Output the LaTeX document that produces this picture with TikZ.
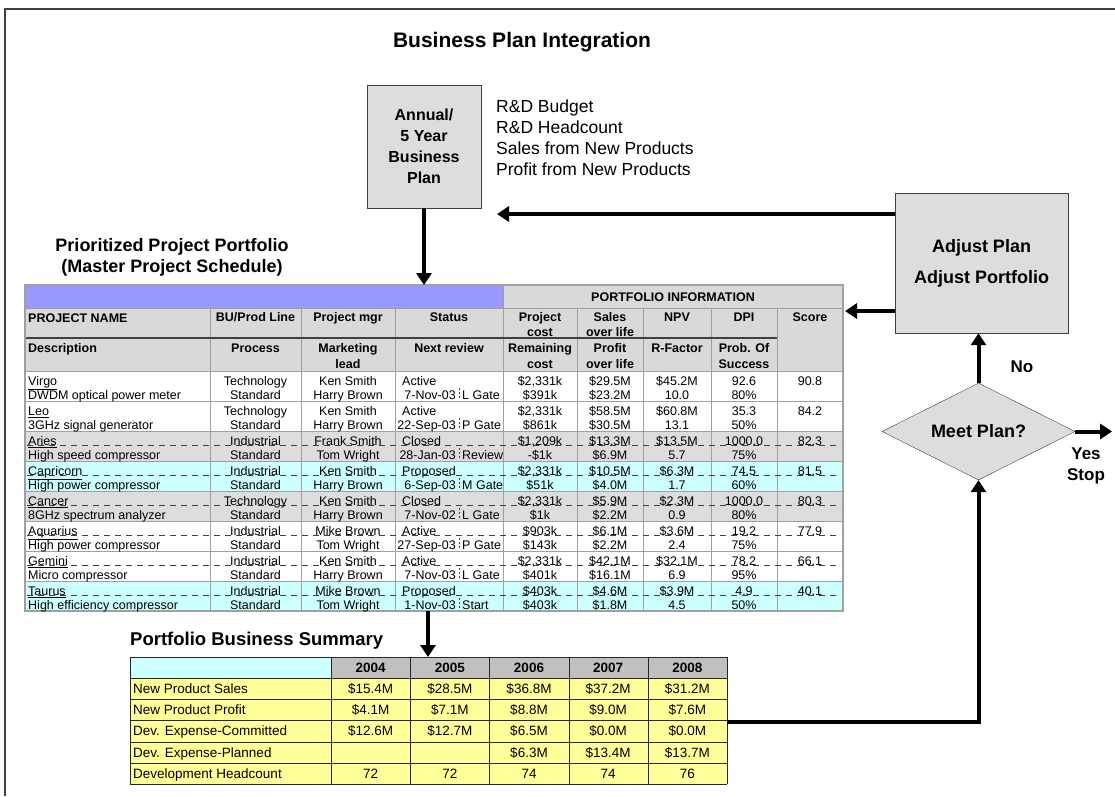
\documentclass[tikz,border=0pt]{standalone}
\usepackage{fontspec}
\setmainfont{Liberation Sans}
\usepackage{tikz}
\usetikzlibrary{shapes.geometric,arrows.meta,positioning,calc}
\definecolor{boxgray}{HTML}{DDDDDD}
\definecolor{hdrgray}{HTML}{D9D9D9}
\definecolor{barblue}{HTML}{9999FF}
\definecolor{rowcyan}{HTML}{CCFFFF}
\definecolor{sumyellow}{HTML}{FFFF99}
\definecolor{yeargray}{HTML}{C0C0C0}
\definecolor{gridgray}{HTML}{A0A0A0}
\definecolor{edge}{HTML}{404040}

\begin{document}
\begin{tikzpicture}[x=1pt,y=-1pt,
    flow/.style={line width=4pt,-{Triangle[length=12pt,width=15pt]}},
    bigbox/.style={draw=edge,fill=boxgray,align=center},
    cell/.style={inner sep=0pt,anchor=base,font=\fontsize{12.5}{14}\selectfont},
    hcell/.style={cell,font=\bfseries\fontsize{12.5}{14}\selectfont},
    scell/.style={inner sep=0pt,anchor=base,font=\fontsize{13.5}{16}\selectfont}]
    \useasboundingbox (0,0) rectangle (1115,796);
    \draw[edge,line width=1.5pt] (5,796) -- (5,9) -- (1115,9);

    \node[font=\bfseries\fontsize{21}{25}\selectfont] (title) at (522,42) {Business Plan Integration};

    \node[bigbox,minimum width=114pt,minimum height=123pt,font=\bfseries\fontsize{16}{21}\selectfont]
        (plan) at (424,146.5) {Annual/\\5 Year\\Business\\Plan};
    \node[anchor=north west,align=left,inner sep=0pt,font=\fontsize{17.5}{21}\selectfont]
        (targets) at (496,100) {R\&D Budget\\R\&D Headcount\\Sales from New Products\\Profit from New Products};

    \node[bigbox,minimum width=173pt,minimum height=140pt,font=\bfseries\fontsize{18}{31}\selectfont]
        (adjust) at (981.5,263) {Adjust Plan\\Adjust Portfolio};
    \node[diamond,aspect=2,draw=edge,fill=boxgray,inner sep=0pt,minimum width=193pt,minimum height=97pt,
        font=\bfseries\fontsize{18}{21}\selectfont] (meet) at (978.5,431.5) {Meet Plan?};
    \node[font=\bfseries\fontsize{17}{20}\selectfont] (no) at (1022,367) {No};
    \node[align=center,font=\bfseries\fontsize{17}{21}\selectfont] (yes) at (1086,466) {Yes\\Stop};

    \node[align=center,font=\bfseries\fontsize{18}{21}\selectfont] (pptitle) at (172,257)
        {Prioritized Project Portfolio\\(Master Project Schedule)};
    \node[anchor=west,inner sep=0pt,font=\bfseries\fontsize{18.5}{21}\selectfont] (sumtitle) at (130,641)
        {Portfolio Business Summary};

    % portfolio table
    \fill[barblue] (25,285) rectangle (503,308);
    \fill[hdrgray] (503,285) rectangle (843,308);
    \fill[hdrgray] (25,308) rectangle (843,371);
    \foreach \r/\col in {0/white,1/white,2/boxgray,3/rowcyan,4/boxgray,5/white,6/white,7/rowcyan}
        \fill[\col] (25,371+30*\r) rectangle (843,401+30*\r);
    \foreach \x in {210,301,395,577,643,711,777}
        \draw[gridgray] (\x,308) -- (\x,611);
    \draw[gridgray] (503,285) -- (503,611);
    \foreach \y in {308,371,401,431,...,581}
        \draw[gridgray] (25,\y) -- (843,\y);
    \draw[edge,line width=1.3pt] (25,338) -- (777,338);
    \draw[gridgray,line width=1.5pt] (25,285) rectangle (843,611);
    \foreach \r in {2,...,7}
        \draw[edge,dash pattern=on 6pt off 5pt] (27,385.5+30*\r) -- (841,385.5+30*\r);
    \foreach \r in {0,...,7}
        \draw[edge,dash pattern=on 2pt off 2pt] (459,388+30*\r) -- (459,399+30*\r);

    \node[hcell] (hport) at (673,301) {PORTFOLIO INFORMATION};
    \node[hcell,anchor=base west] (hname) at (28,322) {PROJECT NAME};
    \node[hcell,anchor=base west] (hdesc) at (28,352) {Description};
    \foreach \x/\ta/\tb [count=\i] in {255.5/{BU/Prod Line}/,348/Project mgr/,449/Status/,
            540/Project/cost,610/Sales/over life,677/NPV/,744/DPI/,810/Score/}
        {\node[hcell] (ha\i) at (\x,321) {\ta};
         \node[hcell] (hb\i) at (\x,336) {\tb};}
    \foreach \x/\ta/\tb [count=\i] in {255.5/Process/,348/Marketing/lead,449/Next review/,
            540/Remaining/cost,610/Profit/over life,677/R-Factor/,744/Prob. Of/Success}
        {\node[hcell] (hc\i) at (\x,352) {\ta};
         \node[hcell] (hd\i) at (\x,368) {\tb};}

    \foreach \ta/\tb [count=\i from 0] in {{\underline{Virgo}}/DWDM optical power meter,
            {\underline{Leo}}/3GHz signal generator,{\underline{Aries}}/High speed compressor,
            {\underline{Capricorn}}/High power compressor,{\underline{Cancer}}/8GHz spectrum analyzer,
            {\underline{Aquarius}}/High power compressor,{\underline{Gemini}}/Micro compressor,
            {\underline{Taurus}}/High efficiency compressor}
        {\node[cell,anchor=base west] (pn\i) at (28,385.5+30*\i) {\ta};
         \node[cell,anchor=base west] (pd\i) at (28,399.5+30*\i) {\tb};}
    \foreach \ta/\tb/\tc [count=\i from 0] in {Technology/Ken Smith/Harry Brown,
            Technology/Ken Smith/Harry Brown,Industrial/Frank Smith/Tom Wright,
            Industrial/Ken Smith/Harry Brown,Technology/Ken Smith/Harry Brown,
            Industrial/Mike Brown/Tom Wright,Industrial/Ken Smith/Harry Brown,
            Industrial/Mike Brown/Tom Wright}
        {\node[cell] (bu\i) at (255.5,385.5+30*\i) {\ta};
         \node[cell] (pr\i) at (255.5,399.5+30*\i) {Standard};
         \node[cell] (mg\i) at (348,385.5+30*\i) {\tb};
         \node[cell] (ml\i) at (348,399.5+30*\i) {\tc};}
    \foreach \ta/\tb/\tc [count=\i from 0] in {Active/7-Nov-03/L Gate,Active/22-Sep-03/P Gate,
            Closed/28-Jan-03/Review,Proposed/6-Sep-03/M Gate,Closed/7-Nov-02/L Gate,
            Active/27-Sep-03/P Gate,Active/7-Nov-03/L Gate,Proposed/1-Nov-03/Start}
        {\node[cell,anchor=base west] (st\i) at (402,385.5+30*\i) {\ta};
         \node[cell,anchor=base east] (dt\i) at (456,399.5+30*\i) {\tb};
         \node[cell,anchor=base west] (gt\i) at (462,399.5+30*\i) {\tc};}
    \foreach \ta/\tb/\tc/\td/\te/\tf/\tg/\th/\tk [count=\i from 0] in {
            {\$2,331k}/\$391k/\$29.5M/\$23.2M/\$45.2M/10.0/92.6/80\%/90.8,
            {\$2,331k}/\$861k/\$58.5M/\$30.5M/\$60.8M/13.1/35.3/50\%/84.2,
            {\$1,209k}/-\$1k/\$13.3M/\$6.9M/\$13.5M/5.7/1000.0/75\%/82.3,
            {\$2,331k}/\$51k/\$10.5M/\$4.0M/\$6.3M/1.7/74.5/60\%/81.5,
            {\$2,331k}/\$1k/\$5.9M/\$2.2M/\$2.3M/0.9/1000.0/80\%/80.3,
            \$903k/\$143k/\$6.1M/\$2.2M/\$3.6M/2.4/19.2/75\%/77.9,
            {\$2,331k}/\$401k/\$42.1M/\$16.1M/\$32.1M/6.9/78.2/95\%/66.1,
            \$403k/\$403k/\$4.6M/\$1.8M/\$3.9M/4.5/4.9/50\%/40.1}
        {\node[cell] (pc\i) at (540,385.5+30*\i) {\ta};
         \node[cell] (rc\i) at (540,399.5+30*\i) {\tb};
         \node[cell] (sl\i) at (610,385.5+30*\i) {\tc};
         \node[cell] (pf\i) at (610,399.5+30*\i) {\td};
         \node[cell] (nv\i) at (677,385.5+30*\i) {\te};
         \node[cell] (rf\i) at (677,399.5+30*\i) {\tf};
         \node[cell] (dp\i) at (744,385.5+30*\i) {\tg};
         \node[cell] (ps\i) at (744,399.5+30*\i) {\th};
         \node[cell] (sc\i) at (810,385.5+30*\i) {\tk};}

    % summary table
    \fill[rowcyan] (130,657) rectangle (331,678);
    \fill[yeargray] (331,657) rectangle (727,678);
    \fill[sumyellow] (130,678) rectangle (727,784);
    \foreach \x in {130,331,410,489,569,648,727}
        \draw[black!85] (\x,657) -- (\x,784);
    \foreach \y in {657,678,699,720,742,763,784}
        \draw[black!85] (130,\y) -- (727,\y);
    \foreach \t [count=\i] in {2004,2005,2006,2007,2008}
        \node[scell,font=\bfseries\fontsize{13.5}{16}\selectfont] (yr\i) at ({331+79.2*(\i-0.5)},672.5) {\t};
    \foreach \tl/\ta/\tb/\tc/\td/\te [count=\j from 0] in {
            New Product Sales/\$15.4M/\$28.5M/\$36.8M/\$37.2M/\$31.2M,
            New Product Profit/\$4.1M/\$7.1M/\$8.8M/\$9.0M/\$7.6M,
            Dev. Expense-Committed/\$12.6M/\$12.7M/\$6.5M/\$0.0M/\$0.0M,
            Dev. Expense-Planned/{}/{}/\$6.3M/\$13.4M/\$13.7M,
            Development Headcount/72/72/74/74/76}
        {\node[scell,anchor=base west] (row\j) at (133,693.5+21.2*\j) {\tl};
         \foreach \v [count=\i] in {\ta,\tb,\tc,\td,\te}
            \node[scell] (v\j-\i) at ({331+79.2*(\i-0.5)},693.5+21.2*\j) {\v};}

    % connectors
    \coordinate (ptop) at (424,285);
    \coordinate (fback) at (497,214);
    \coordinate (pright) at (845,311);
    \coordinate (pbot) at (428,611);
    \coordinate (stop) at (428,657);
    \coordinate (sright) at (727,722);
    \coordinate (yesend) at (1112,431.5);
    \draw[flow] (plan.south) -- (ptop);
    \draw[flow] (adjust.west |- fback) -- (fback);
    \draw[flow] (adjust.west |- pright) -- (pright);
    \draw[flow] (meet.north) -- (meet.north |- adjust.south);
    \draw[flow] (meet.east) -- (yesend);
    \draw[flow] (pbot) -- (stop);
    \draw[flow] (sright) -| (meet.south);
\end{tikzpicture}
\end{document}
